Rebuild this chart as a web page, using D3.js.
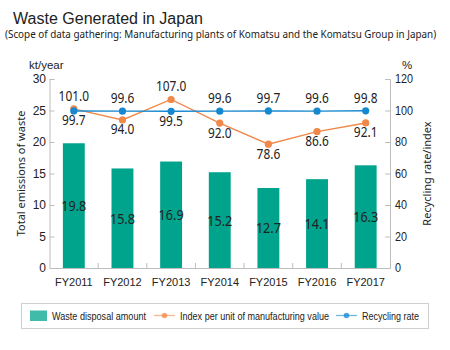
<!DOCTYPE html>
<html>
<head>
<meta charset="utf-8">
<script src="https://cdn.jsdelivr.net/npm/d3@7"></script>
<style>
  html, body { margin: 0; padding: 0; background: #fff; }
  svg { display: block; }
  text { fill: #222; }
</style>
</head>
<body>
<svg id="chart" width="450" height="350"></svg>
<script>
// Fiscal years shown on the category axis
const years = ["FY2011", "FY2012", "FY2013", "FY2014", "FY2015", "FY2016", "FY2017"];
// Waste disposal amount (kt/year)
const wasteAmount = [19.8, 15.8, 16.9, 15.2, 12.7, 14.1, 16.3];
// Index per unit of manufacturing value
const indexValue = [101.0, 94.0, 107.0, 92.0, 78.6, 86.6, 92.1];
// Recycling rate (%)
const recyclingRate = [99.7, 99.6, 99.5, 99.6, 99.7, 99.6, 99.8];
// Label placement for each point: "above" or "below"
const indexLabelPos = ["above", "below", "above", "below", "below", "below", "below"];
const recycleLabelPos = ["below", "above", "below", "above", "above", "above", "above"];
// Axis ticks
const leftTicks = [0, 5, 10, 15, 20, 25, 30];
const rightTicks = [0, 20, 40, 60, 80, 100, 120];

const COL_BAR = "#00a38c";
const COL_ORANGE = "#f0884a";
const COL_BLUE = "#1688d0";
const COL_AXIS = "#bdbdbd";
const NUM_FONT = "'Noto Sans', sans-serif";
const SANS = "'Liberation Sans', Arial, sans-serif";

const svg = d3.select("#chart");
const plot = { left: 49.5, right: 390, top: 79, bottom: 268 };

const x = d3.scaleBand().domain(years)
  .range([plot.left, plot.right])
  .paddingInner(0.55).paddingOuter(0.275);
const yL = d3.scaleLinear().domain([0, 30]).range([plot.bottom, plot.top]);
const yR = d3.scaleLinear().domain([0, 120]).range([plot.bottom, plot.top]);
const cx = d => x(d) + x.bandwidth() / 2;

// Narrow the glyphs of a text selection horizontally
function condense(sel, ratio) {
  sel.each(function () {
    const w = this.getComputedTextLength();
    d3.select(this).attr("textLength", w * ratio).attr("lengthAdjust", "spacingAndGlyphs");
  });
}

// Title and subtitle
svg.append("text").attr("x", 13).attr("y", 24)
  .attr("font-family", SANS)
  .attr("font-size", 16).attr("textLength", 190).attr("lengthAdjust", "spacingAndGlyphs")
  .text("Waste Generated in Japan");
const sub = svg.append("text").attr("x", 0).attr("y", 0)
  .attr("font-family", NUM_FONT).attr("font-size", 11)
  .text("(Scope of data gathering: Manufacturing plants of Komatsu and the Komatsu Group in Japan)");
const subW = sub.node().getComputedTextLength();
sub.attr("transform", `translate(5,37.5) scale(${432 / subW},1)`);

// Unit labels
svg.append("text").attr("x", 29).attr("y", 69)
  .attr("font-family", SANS).attr("font-size", 11.5).text("kt/year");
svg.append("text").attr("x", 402).attr("y", 69)
  .attr("font-family", SANS).attr("font-size", 11.5).text("%");

// Axis titles
svg.append("text")
  .attr("transform", `translate(25,${(plot.top + plot.bottom) / 2}) rotate(-90)`)
  .attr("text-anchor", "middle")
  .attr("font-family", NUM_FONT).attr("font-size", 11)
  .text("Total emissions of waste");
svg.append("text")
  .attr("transform", `translate(431,${(plot.top + plot.bottom) / 2}) rotate(-90)`)
  .attr("text-anchor", "middle")
  .attr("font-family", NUM_FONT).attr("font-size", 11)
  .text("Recycling rate/index");

// Bars
svg.append("g").selectAll("rect").data(wasteAmount).join("rect")
  .attr("x", (d, i) => x(years[i]))
  .attr("width", x.bandwidth())
  .attr("y", d => yL(d))
  .attr("height", d => yL(0) - yL(d))
  .attr("fill", COL_BAR);

// Left axis
const gL = svg.append("g").attr("transform", `translate(${plot.left},0)`)
  .call(d3.axisLeft(yL).tickValues(leftTicks).tickSize(-5).tickPadding(3.5));
gL.select(".domain").attr("stroke", COL_AXIS);
gL.selectAll(".tick line").attr("stroke", COL_AXIS);
gL.selectAll(".tick text").attr("font-family", SANS).attr("font-size", 12).attr("fill", "#222");

// Right axis
const gR = svg.append("g").attr("transform", `translate(${plot.right},0)`)
  .call(d3.axisRight(yR).tickValues(rightTicks).tickSize(-5).tickPadding(5));
gR.select(".domain").attr("stroke", COL_AXIS);
gR.selectAll(".tick line").attr("stroke", COL_AXIS);
gR.selectAll(".tick text").attr("font-family", SANS).attr("font-size", 12).attr("fill", "#222");
gR.selectAll(".tick text").call(condense, 0.9);

// Bottom axis with separators between categories
const gB = svg.append("g").attr("transform", `translate(0,${plot.bottom})`)
  .call(d3.axisBottom(x).tickSize(0).tickPadding(10));
gB.select(".domain").attr("stroke", COL_AXIS);
gB.selectAll(".tick text").attr("font-family", SANS)
  .attr("font-size", 11).attr("fill", "#222");
const seps = d3.range(1, years.length).map(i => plot.left + x.step() * i);
svg.append("g").selectAll("line").data(seps).join("line")
  .attr("x1", d => d).attr("x2", d => d)
  .attr("y1", plot.bottom - 5).attr("y2", plot.bottom)
  .attr("stroke", COL_AXIS);

// Bar value labels
svg.append("g").selectAll("text").data(wasteAmount).join("text")
  .attr("x", (d, i) => cx(years[i]))
  .attr("y", d => (yL(d) + yL(0)) / 2 + 5.5)
  .attr("text-anchor", "middle")
  .attr("font-family", NUM_FONT).attr("font-size", 15)
  .attr("fill", "#1a1a1a")
  .text(d => d.toFixed(1))
  .call(condense, 0.84);

// Lines with markers
function drawSeries(values, color) {
  const line = d3.line().x((d, i) => cx(years[i])).y(d => yR(d));
  svg.append("path").datum(values).attr("d", line)
    .attr("fill", "none").attr("stroke", color).attr("stroke-width", 1.4);
  svg.append("g").selectAll("circle").data(values).join("circle")
    .attr("cx", (d, i) => cx(years[i])).attr("cy", d => yR(d))
    .attr("r", 3.6).attr("fill", color);
}
drawSeries(indexValue, COL_ORANGE);
drawSeries(recyclingRate, COL_BLUE);

function drawLabels(values, pos, color) {
  svg.append("g").selectAll("text").data(values).join("text")
    .attr("x", (d, i) => cx(years[i]))
    .attr("y", (d, i) => pos[i] === "above" ? yR(d) - 8 : yR(d) + 14.5)
    .attr("text-anchor", "middle")
    .attr("font-family", NUM_FONT).attr("font-size", 14)
    .attr("fill", color)
    .text(d => d.toFixed(1))
    .call(condense, 0.85);
}
drawLabels(indexValue, indexLabelPos, COL_ORANGE);
drawLabels(recyclingRate, recycleLabelPos, COL_BLUE);

// Legend
const lg = svg.append("g");
lg.append("rect").attr("x", 21.5).attr("y", 303.5).attr("width", 407).attr("height", 25)
  .attr("fill", "#fff").attr("stroke", "#cfcfcf");
lg.append("rect").attr("x", 30).attr("y", 310.5).attr("width", 17).attr("height", 10.5)
  .attr("fill", COL_BAR).attr("opacity", 0.75);
lg.append("text").attr("x", 52).attr("y", 319.5).attr("font-family", SANS).attr("font-size", 10)
  .attr("fill", "#333").attr("textLength", 94).attr("lengthAdjust", "spacingAndGlyphs")
  .text("Waste disposal amount");
const legendLines = [
  { x1: 154, x2: 175, color: COL_ORANGE, tx: 180, tw: 149, label: "Index per unit of manufacturing value" },
  { x1: 336, x2: 357, color: COL_BLUE, tx: 362, tw: 57, label: "Recycling rate" }
];
legendLines.forEach(l => {
  lg.append("line").attr("x1", l.x1).attr("x2", l.x2).attr("y1", 315.5).attr("y2", 315.5)
    .attr("stroke", l.color).attr("stroke-width", 1.3).attr("opacity", 0.6);
  lg.append("circle").attr("cx", (l.x1 + l.x2) / 2).attr("cy", 315.5).attr("r", 2.8)
    .attr("fill", l.color).attr("opacity", 0.75);
  lg.append("text").attr("x", l.tx).attr("y", 319.5).attr("font-family", SANS).attr("font-size", 10)
    .attr("fill", "#333").attr("textLength", l.tw).attr("lengthAdjust", "spacingAndGlyphs")
    .text(l.label);
});
</script>
</body>
</html>
